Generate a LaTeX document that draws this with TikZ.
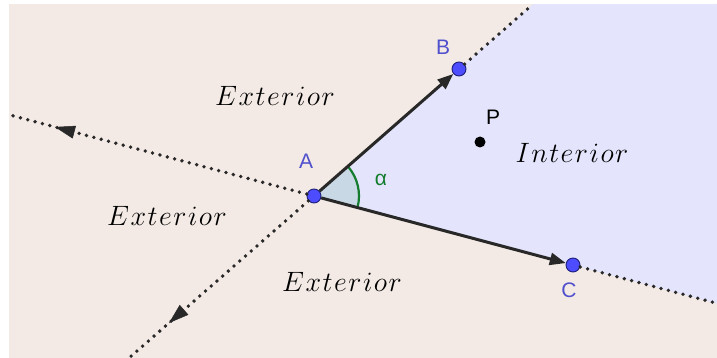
\RequirePackage{fix-cm}
\documentclass[tikz,border=0pt]{standalone}
\usepackage{fontspec}
\usepackage{tikz}
\usetikzlibrary{positioning,calc}
\usetikzlibrary{arrows.meta}
\newfontfamily\labfont{Liberation Sans}
\definecolor{PlaneBeige}{RGB}{243,234,229}
\definecolor{InnerLilac}{RGB}{228,228,252}
\definecolor{PtBlue}{RGB}{77,77,255}
\definecolor{PtEdge}{RGB}{30,30,120}
\definecolor{LabBlue}{RGB}{80,80,205}
\definecolor{AngGreen}{RGB}{20,125,45}
\definecolor{WedgeGrey}{RGB}{200,216,228}
\definecolor{LineGrey}{RGB}{40,40,40}
\tikzset{pt/.style={circle,fill=PtBlue,draw=PtEdge,line width=0.9pt,inner sep=0pt,minimum size=14pt}, blackpt/.style={circle,fill=black,inner sep=0pt,minimum size=11pt}, lab/.style={font=\labfont\fontsize{21}{24}\selectfont,text=LabBlue}, vec/.style={draw=LineGrey,line width=3pt,-{Triangle[length=16pt,width=12pt]}}, ray/.style={draw=LineGrey,line width=3.8pt,line cap=round,dash pattern=on 0pt off 7.6pt}, raytip/.style={draw=LineGrey,line width=0.5pt,-{Triangle[length=20pt,width=13pt]}}, region/.style={font=\fontsize{28}{32}\selectfont}}

\begin{document}
\begin{tikzpicture}[x=1pt,y=-1pt]
\useasboundingbox (0,0) rectangle (717,358);
\coordinate (gA) at (314,196);
\coordinate (gB) at (459,69);
\coordinate (gC) at (573,265);
\coordinate (gP) at (480,142);
\coordinate (Bend) at ($(gA)!1.51!(gB)$);
\coordinate (Cend) at ($(gA)!1.56!(gC)$);
\coordinate (Bback) at ($(gA)!-1.3!(gB)$);
\coordinate (Cback) at ($(gA)!-1.17!(gC)$);
\coordinate (Btip) at ($(gA)!-1!(gB)$);
\coordinate (Bbase) at ($(gA)!-0.9!(gB)$);
\coordinate (Ctip) at ($(gA)!-1!(gC)$);
\coordinate (Cbase) at ($(gA)!-0.93!(gC)$);
% planes
\fill[white] (0,0) rectangle (717,358);
\fill[PlaneBeige] (9,4) rectangle (717,358);
\fill[InnerLilac] (gA) -- (Bend) -- (717,4) -- (717,303.5) -- cycle;
% angle
\fill[WedgeGrey] (gA) -- ++(14.9:45) arc (14.9:-41.2:45) -- cycle;
\draw[AngGreen,line width=2.2pt] ($(gA)+(14.9:45)$) arc (14.9:-41.2:45);
\node[pt] (A) at (gA) {};
\node[pt] (B) at (gB) {};
\node[pt] (C) at (gC) {};
\node[blackpt] (P) at (gP) {};
\draw[ray] (A) -- (Bback);
\draw[ray] (B) -- (Bend);
\draw[ray] (A) -- (Cback);
\draw[ray] (C) -- (Cend);
\draw[raytip] (Bbase) -- (Btip);
\draw[raytip] (Cbase) -- (Ctip);
\draw[vec] (A) -- (B);
\draw[vec] (A) -- (C);
\node[lab] (labA) at (306,161) {A};
\node[lab] (labB) at (443,47) {B};
\node[lab] (labC) at (569,290) {C};
\node[lab,text=black] (labP) at (493,117) {P};
\node[lab,text=AngGreen] (alpha) at (381,180) {α};
\node[region] (ext1) at (275,96) {$E\mkern1mu x\mkern1mu t\mkern1mu e\mkern1mu r\mkern1mu i\mkern1mu o\mkern1mu r$};
\node[region] (ext2) at (167,216) {$E\mkern1mu x\mkern1mu t\mkern1mu e\mkern1mu r\mkern1mu i\mkern1mu o\mkern1mu r$};
\node[region] (ext3) at (342,282) {$E\mkern1mu x\mkern1mu t\mkern1mu e\mkern1mu r\mkern1mu i\mkern1mu o\mkern1mu r$};
\node[region] (int) at (572,153) {$I\mkern1mu n\mkern1mu t\mkern1mu e\mkern1mu r\mkern1mu i\mkern1mu o\mkern1mu r$};
\end{tikzpicture}
\end{document}
